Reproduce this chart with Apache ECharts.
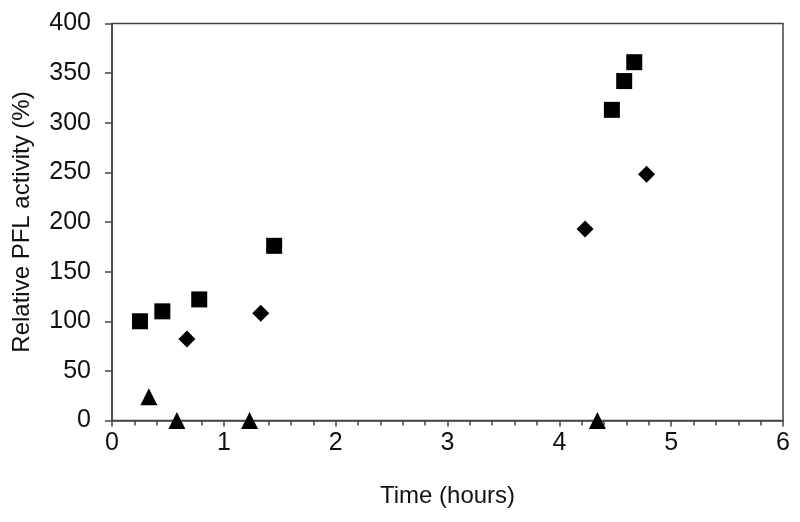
<!DOCTYPE html>
<html><head><meta charset="utf-8">
<script src="https://cdn.jsdelivr.net/npm/echarts@6/dist/echarts.min.js"></script>
<style>html,body{margin:0;padding:0;background:#fff}#c{width:800px;height:522px}</style>
</head><body><div id="c"></div>
<script>
const squaresX = [0.25, 0.45, 0.78, 1.45, 4.47, 4.58, 4.67];
const squaresY = [100, 110, 122, 176, 313, 342, 361];
const diamondsX = [0.67, 1.33, 4.23, 4.78];
const diamondsY = [82, 108, 193, 248];
const trianglesX = [0.33, 0.58, 1.23, 4.34];
const trianglesY = [24, 0, 0, 0];
const xTicks = [0, 1, 2, 3, 4, 5, 6];
const yTicks = [0, 50, 100, 150, 200, 250, 300, 350, 400];

const zip = (xs, ys) => xs.map((x, i) => [x, ys[i]]);
const font = 'Liberation Sans, Arial, sans-serif';
const axisCol = '#444';
const chart = echarts.init(document.getElementById('c'));
chart.setOption({
  animation: false,
  backgroundColor: '#fff',
  grid: { left: 112, right: 17, top: 23.5, bottom: 101.5, outerBoundsMode: 'none', containLabel: false,
          show: true, borderColor: axisCol, borderWidth: 1.5 },
  xAxis: {
    type: 'value', min: xTicks[0], max: xTicks[xTicks.length - 1], interval: 1,
    name: 'Time (hours)', nameLocation: 'middle', nameGap: 64,
    nameTextStyle: { fontFamily: font, fontSize: 24, color: '#111' },
    axisLine: { onZero: false, lineStyle: { color: axisCol, width: 1.5 } },
    axisTick: { show: true, length: 6, lineStyle: { color: axisCol, width: 1.5 } },
    minorTick: { show: true, splitNumber: 5, length: 5, lineStyle: { color: axisCol, width: 1.5 } },
    axisLabel: { fontFamily: font, fontSize: 25, color: '#111', margin: 10 },
    splitLine: { show: false }
  },
  yAxis: {
    type: 'value', min: yTicks[0], max: yTicks[yTicks.length - 1], interval: 50,
    name: 'Relative PFL activity (%)', nameLocation: 'middle', nameGap: 78, nameRotate: 90,
    nameTextStyle: { fontFamily: font, fontSize: 24, color: '#111' },
    axisLine: { show: true, onZero: false, lineStyle: { color: axisCol, width: 1.5 } },
    axisTick: { show: true, length: 7, lineStyle: { color: axisCol, width: 1.5 } },
    axisLabel: { fontFamily: font, fontSize: 25, color: '#111', margin: 21 },
    splitLine: { show: false }
  },
  series: [
    { type: 'scatter', symbol: 'rect', symbolSize: 16, itemStyle: { color: '#000', opacity: 1 }, data: zip(squaresX, squaresY) },
    { type: 'scatter', symbol: 'diamond', symbolSize: 17, itemStyle: { color: '#000', opacity: 1 }, data: zip(diamondsX, diamondsY) },
    { type: 'scatter', symbol: 'triangle', symbolSize: 17, itemStyle: { color: '#000', opacity: 1 }, data: zip(trianglesX, trianglesY) }
  ]
});
</script></body></html>
